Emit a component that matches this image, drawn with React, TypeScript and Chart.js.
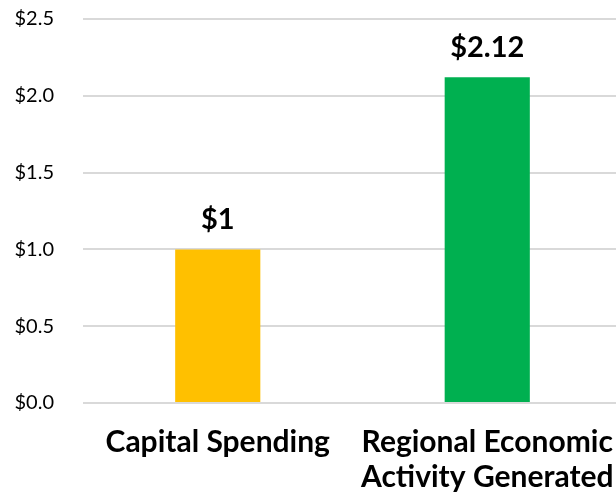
import React, { useEffect, useRef } from "react";
import { Chart, registerables } from "chart.js";

Chart.register(...registerables);

const categories: (string | string[])[] = [
  "Capital Spending",
  ["Regional Economic", "Activity Generated"],
];
const values: number[] = [1, 2.12];
const valueLabels: string[] = ["$1", "$2.12"];
const barColors: string[] = ["#FFC000", "#00B050"];
const yTicks: number[] = [0, 0.5, 1.0, 1.5, 2.0, 2.5];

const FONT = "Lato, 'Noto Sans', sans-serif";

const dataLabelPlugin = {
  id: "dataLabels",
  afterDatasetsDraw(chart: any) {
    const ctx = chart.ctx;
    const meta = chart.getDatasetMeta(0);
    ctx.save();
    ctx.font = `bold 29px ${FONT}`;
    ctx.fillStyle = "#000000";
    ctx.textAlign = "center";
    ctx.textBaseline = "alphabetic";
    meta.data.forEach((bar: any, i: number) => {
      ctx.fillText(valueLabels[i], bar.x, bar.y - 20);
    });
    ctx.restore();
  },
};

export default function App() {
  const ref = useRef<HTMLCanvasElement | null>(null);
  useEffect(() => {
    if (!ref.current) return;
    const chart = new Chart(ref.current, {
      type: "bar",
      data: {
        labels: categories,
        datasets: [
          {
            data: values,
            backgroundColor: barColors,
            barPercentage: 1,
            categoryPercentage: 0.316,
          },
        ],
      },
      options: {
        animation: false,
        responsive: false,
        maintainAspectRatio: false,
        layout: { padding: { top: 19, right: 0, left: 0, bottom: 0 } },
        plugins: {
          legend: { display: false },
          tooltip: { enabled: false },
        },
        scales: {
          x: {
            grid: { display: false, drawTicks: false },
            border: { display: false },
            ticks: {
              color: "#000000",
              font: { family: FONT, size: 30, weight: "bold", lineHeight: 1.17 },
              padding: 22,
              maxRotation: 0,
              autoSkip: false,
            },
            afterFit(scale: any) {
              scale.height = 94;
              scale.paddingLeft = 0;
              scale.paddingRight = 0;
            },
          },
          y: {
            min: 0,
            max: 2.5,
            afterBuildTicks(scale: any) {
              scale.ticks = yTicks.map((v) => ({ value: v }));
            },
            grid: { color: "#d9d9d9", lineWidth: 2, drawTicks: false },
            border: { display: false },
            ticks: {
              color: "#000000",
              font: { family: FONT, size: 20 },
              padding: 29,
              callback: (v: any) => "$" + Number(v).toFixed(1),
            },
            afterFit(scale: any) {
              scale.width = 83;
              scale.paddingTop = 0;
              scale.paddingBottom = 0;
            },
          },
        },
      },
      plugins: [dataLabelPlugin],
    });
    return () => chart.destroy();
  }, []);
  return (
    <div style={{ position: "fixed", left: 0, top: 0, width: 622, height: 497, background: "#fff" }}>
      <canvas ref={ref} width={622} height={497} style={{ display: "block", width: 622, height: 497 }} />
    </div>
  );
}
